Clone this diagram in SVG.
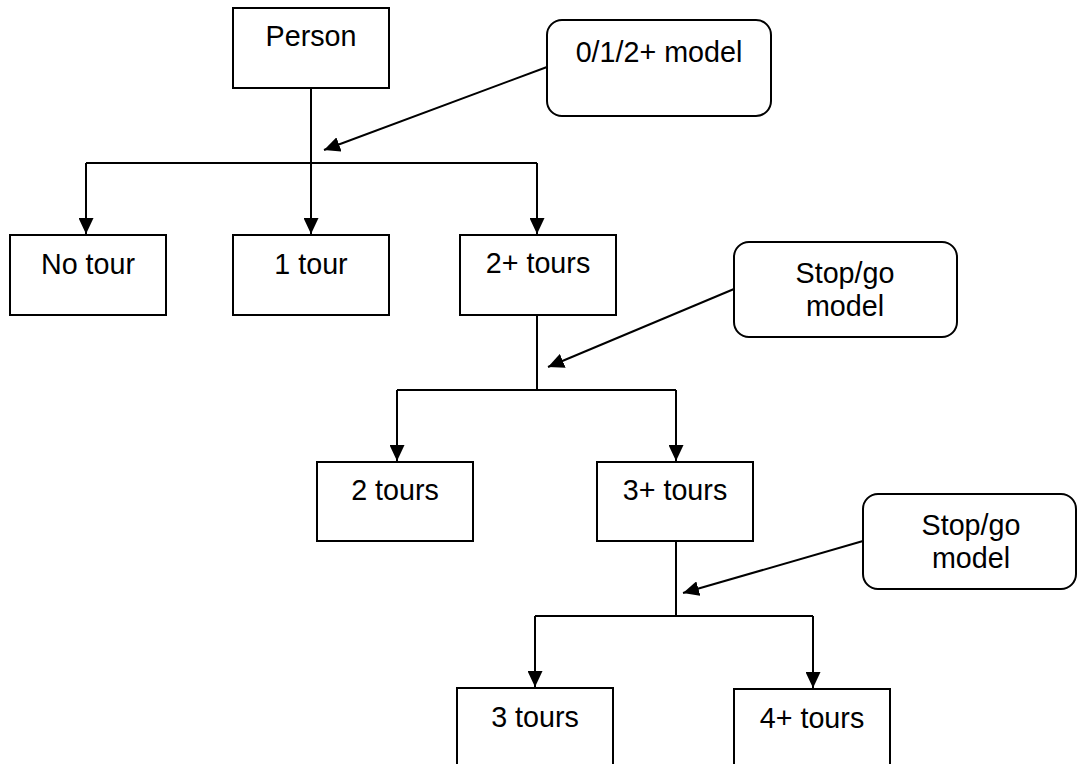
<svg xmlns="http://www.w3.org/2000/svg" width="1079" height="764" viewBox="0 0 1079 764">
<style>
.box{fill:#fff;stroke:#000;stroke-width:2}
.call{fill:#fff;stroke:#000;stroke-width:2}
.t{font-family:"Liberation Sans",Arial,sans-serif;font-size:28.7px;fill:#000;text-anchor:middle}
.c{fill:none;stroke:#000;stroke-width:2}
</style>
<defs>
<marker id="ah" markerUnits="userSpaceOnUse" markerWidth="16" markerHeight="15" refX="16" refY="7.5" orient="auto">
<path d="M0,0 L16,7.5 L0,15 z" fill="#000"/>
</marker>
</defs>
<rect width="1079" height="764" fill="#fff"/>
<g id="connectors">
<path class="c" d="M311 88 V234" marker-end="url(#ah)"/>
<path class="c" d="M86 163 H537"/>
<path class="c" d="M86 163 V234" marker-end="url(#ah)"/>
<path class="c" d="M537 163 V234" marker-end="url(#ah)"/>
<path class="c" d="M537 315 V390"/>
<path class="c" d="M397 390 H676"/>
<path class="c" d="M397 390 V461" marker-end="url(#ah)"/>
<path class="c" d="M676 390 V461" marker-end="url(#ah)"/>
<path class="c" d="M676 541 V616"/>
<path class="c" d="M535 616 H813"/>
<path class="c" d="M535 616 V687" marker-end="url(#ah)"/>
<path class="c" d="M813 616 V688" marker-end="url(#ah)"/>
<path class="c" d="M547 67 L324 150" marker-end="url(#ah)"/>
<path class="c" d="M734 289 L548 367" marker-end="url(#ah)"/>
<path class="c" d="M863 541 L683 593" marker-end="url(#ah)"/>
</g>
<g id="person"><rect class="box" x="233" y="8" width="156" height="80"/><text class="t" x="311" y="46">Person</text></g>
<g id="notour"><rect class="box" x="10" y="235" width="156" height="80"/><text class="t" x="88" y="274">No tour</text></g>
<g id="onetour"><rect class="box" x="233" y="235" width="156" height="80"/><text class="t" x="311" y="274">1 tour</text></g>
<g id="twoplus"><rect class="box" x="460" y="235" width="156" height="80"/><text class="t" x="538" y="273">2+ tours</text></g>
<g id="two"><rect class="box" x="317" y="462" width="156" height="79"/><text class="t" x="395" y="500">2 tours</text></g>
<g id="threeplus"><rect class="box" x="597" y="462" width="156" height="79"/><text class="t" x="675" y="500">3+ tours</text></g>
<g id="three"><rect class="box" x="457" y="688" width="156" height="80"/><text class="t" x="535" y="727">3 tours</text></g>
<g id="fourplus"><rect class="box" x="734" y="689" width="156" height="80"/><text class="t" x="812" y="728">4+ tours</text></g>
<g id="callout1"><rect class="call" x="547" y="20" width="224" height="96" rx="15"/><text class="t" x="659" y="62">0/1/2+ model</text></g>
<g id="callout2"><rect class="call" x="734" y="242" width="223" height="95" rx="15"/><text class="t" x="845" y="283">Stop/go</text><text class="t" x="845" y="316">model</text></g>
<g id="callout3"><rect class="call" x="863" y="494" width="213" height="95" rx="15"/><text class="t" x="971" y="535">Stop/go</text><text class="t" x="971" y="568">model</text></g>
</svg>
